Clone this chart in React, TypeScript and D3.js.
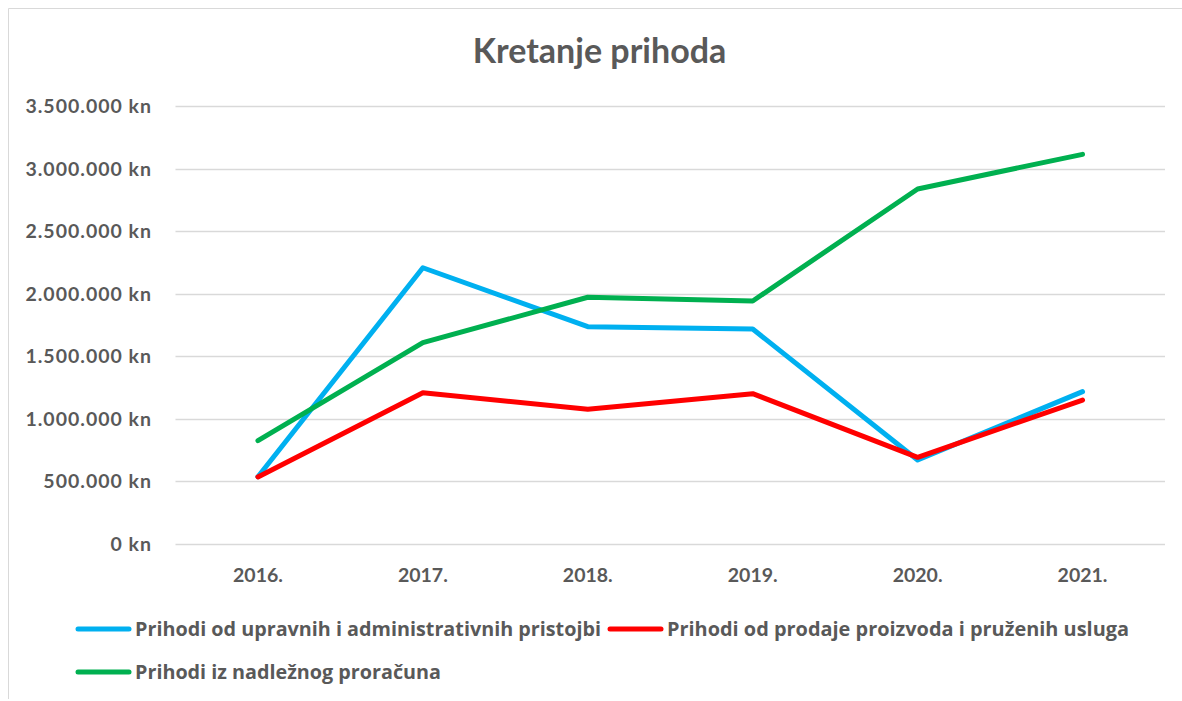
import React from "react";
import * as d3 from "d3";

const title = "Kretanje prihoda";
const years = ["2016.", "2017.", "2018.", "2019.", "2020.", "2021."];
const seriesNames = [
  "Prihodi od upravnih i administrativnih pristojbi",
  "Prihodi od prodaje proizvoda i pruženih usluga",
  "Prihodi iz nadležnog proračuna",
];
const upravne = [538000, 2209000, 1738000, 1719000, 672000, 1218000];
const prodaja = [536000, 1210000, 1077000, 1202000, 693000, 1151000];
const proracun = [826000, 1610000, 1973000, 1943000, 2839000, 3116000];
const yTicks = [0, 500000, 1000000, 1500000, 2000000, 2500000, 3000000, 3500000];
const colors = ["#00B0F0", "#FF0000", "#00B050"];

const W = 1182;
const H = 701;
const FONT = "Lato, 'Open Sans', sans-serif";
const LEG_FONT = "'Open Sans', Lato, sans-serif";
const TXT = "#595959";

const fmt = (v: number) =>
  (v === 0 ? "0" : d3.format(",")(v).replace(/,/g, ".")) + " kn";

export default function App() {
  const x = d3.scaleBand<string>().domain(years).range([175.5, 1165]);
  const y = d3.scaleLinear().domain([0, 3500000]).range([544, 106.3]);
  const cx = (c: string) => (x(c) as number) + x.bandwidth() / 2;
  const line = d3
    .line<number>()
    .x((_, i) => cx(years[i]))
    .y((d) => y(d));
  const data = [upravne, prodaja, proracun];

  const legend = [
    { lx: 76, tx: 135, ly: 629, len: 466, name: seriesNames[0], c: colors[0] },
    { lx: 608, tx: 667, ly: 629, len: 462, name: seriesNames[1], c: colors[1] },
    { lx: 76, tx: 135, ly: 672, len: 306, name: seriesNames[2], c: colors[2] },
  ];

  return (
    <svg
      width={W}
      height={H}
      style={{ position: "absolute", left: 0, top: 0, background: "#fff" }}
      fontFamily={FONT}
    >
      <rect x={0} y={0} width={W} height={H} fill="#fff" />
      <line x1={8.5} x2={W} y1={8.5} y2={8.5} stroke="#d9d9d9" strokeWidth={1} />
      <line x1={8.5} x2={8.5} y1={8.5} y2={699} stroke="#d9d9d9" strokeWidth={1} />
      <text
        x={599.5}
        y={63}
        textAnchor="middle"
        fontSize={34}
        fontWeight="bold"
        fill={TXT}
      >
        {title}
      </text>
      {yTicks.map((t) => (
        <g key={t}>
          <line
            x1={175.5}
            x2={1165}
            y1={Math.round(y(t)) + 0.5}
            y2={Math.round(y(t)) + 0.5}
            stroke="#d9d9d9"
            strokeWidth={1.5}
          />
          <text
            x={152}
            y={y(t)}
            dy="0.36em"
            textAnchor="end"
            fontSize={19.5}
            fontWeight="bold"
            letterSpacing={1}
            fill={TXT}
          >
            {fmt(t)}
          </text>
        </g>
      ))}
      {years.map((c) => (
        <text
          key={c}
          x={cx(c)}
          y={575}
          dy="0.36em"
          textAnchor="middle"
          fontSize={19.5}
          fontWeight="bold"
          fill={TXT}
        >
          {c}
        </text>
      ))}
      {data.map((d, i) => (
        <path
          key={i}
          d={line(d) as string}
          fill="none"
          stroke={colors[i]}
          strokeWidth={5}
          strokeLinecap="round"
          strokeLinejoin="round"
        />
      ))}
      {legend.map((l, i) => (
        <g key={i}>
          <line
            x1={l.lx + 2}
            x2={l.lx + 53}
            y1={l.ly}
            y2={l.ly}
            stroke={l.c}
            strokeWidth={5}
            strokeLinecap="round"
          />
          <text
            x={l.tx}
            y={l.ly}
            dy="0.36em"
            fontFamily={LEG_FONT}
            fontSize={19}
            fontWeight="bold"
            textLength={l.len}
            lengthAdjust="spacingAndGlyphs"
            fill={TXT}
          >
            {l.name}
          </text>
        </g>
      ))}
    </svg>
  );
}
